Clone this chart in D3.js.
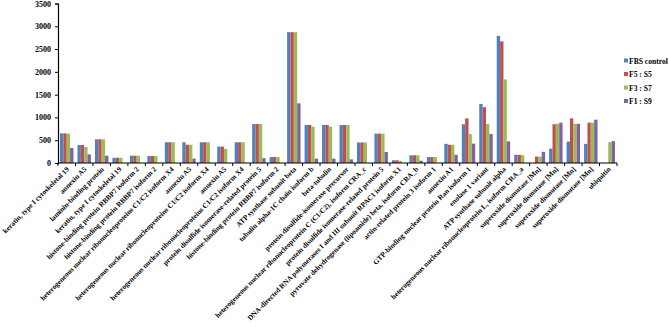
<!DOCTYPE html>
<html><head><meta charset="utf-8">
<script src="https://cdn.jsdelivr.net/npm/d3@7"></script>
<style>body{margin:0;background:#fff}svg{display:block}text{font-family:"Liberation Serif","Times New Roman",serif;font-weight:bold}</style>
</head><body>
<script>
const categories = [
"keratin, type I cytoskeletal 19","annexin A5","laminin-binding protein","keratin, type I cytoskeletal 19",
"histone-binding protein RBBP7 isoform 2","histone-binding protein RBBP7 isoform 2",
"heterogeneous nuclear ribonucleoproteins C1/C2 isoform X4","annexin A5",
"heterogeneous nuclear ribonucleoproteins C1/C2 isoform X4","annexin A5",
"heterogeneous nuclear ribonucleoproteins C1/C2 isoform X4","protein disulfide isomerase-related protein 5",
"histone-binding protein RBBP7 isoform 2","ATP synthase subunit beta","tubulin alpha-1C chain isoform b",
"beta-tubulin","protein disulfide-isomerase precursor",
"heterogeneous nuclear ribonucleoprotein C (C1/C2), isoform CRA_c","protein disulfide isomerase-related protein 5",
"DNA-directed RNA polymerases I and III subunit RPAC1 isoform X1","pyruvate dehydrogenase (lipoamide) beta, isoform CRA_b",
"actin-related protein 3 isoform 1","annexin A1","GTP-binding nuclear protein Ran isoform 1","enolase 1 variant",
"ATP synthase subunit alpha","heterogeneous nuclear ribonucleoprotein L, isoform CRA_a",
"superoxide dismutase [Mn]","superoxide dismutase [Mn]","superoxide dismutase [Mn]","superoxide dismutase [Mn]","ubiquitin"];
const seriesNames = ["FBS control","F5 : S5","F3 : S7","F1 : S9"];
const fbs = [650,395,520,115,160,155,455,455,455,360,455,855,130,2870,835,835,835,450,645,60,170,130,420,850,1295,2790,180,0,315,470,420,0];
const f5s5 = [650,395,520,115,160,155,455,400,455,360,455,855,130,2870,835,835,835,450,645,60,170,130,400,980,1225,2668,180,140,850,980,885,0];
const f3s7 = [645,350,520,115,160,155,455,400,455,310,455,855,130,2870,795,800,835,450,645,50,170,130,400,635,855,1835,170,140,860,860,885,460];
const f1s9 = [330,190,160,0,0,0,0,95,0,0,0,105,0,1310,95,95,80,0,240,0,50,0,180,425,635,475,0,245,885,860,950,480];
const yTicks = [0,500,1000,1500,2000,2500,3000,3500];
const colors = ["#4F81BD","#C0504D","#9BBB59","#8064A2"];

const W=669,H=327;
const svg=d3.select("body").append("svg").attr("width",W).attr("height",H);
const series=[fbs,f5s5,f3s7,f1s9];
const idx=d3.range(categories.length);
const x=d3.scaleBand().domain(idx).range([58,617]).padding(0);
const xi=d3.scaleBand().domain(d3.range(4)).range([0,x.bandwidth()]).paddingInner(0).paddingOuter(0.6);
const y=d3.scaleLinear().domain([0,3500]).range([163,3.5]);

// bars
idx.forEach(i=>{
  const g=svg.append("g").attr("transform",`translate(${x(i)},0)`);
  g.selectAll("rect").data(series.map((s,k)=>({k,v:s[i]}))).join("rect")
   .attr("x",d=>xi(d.k)).attr("width",xi.bandwidth())
   .attr("y",d=>y(d.v)).attr("height",d=>y(0)-y(d.v)).attr("fill",d=>colors[d.k]);
});

// y axis
const ya=svg.append("g").attr("transform","translate(58,0)")
 .call(d3.axisLeft(y).tickValues(yTicks).tickSize(3).tickPadding(4).tickFormat(d3.format("d")));
ya.select(".domain").attr("stroke","#000").attr("stroke-width",1.2);
ya.selectAll("text").attr("font-size",8).attr("fill","#000");

// x axis
const xa=svg.append("g");
xa.append("line").attr("x1",58).attr("x2",617).attr("y1",y(0)).attr("y2",y(0)).attr("stroke","#000").attr("stroke-width",1.2);
xa.selectAll("line.t").data(d3.range(categories.length+1)).join("line").attr("class","t")
 .attr("x1",d=>58+d*x.step()).attr("x2",d=>58+d*x.step()).attr("y1",y(0)).attr("y2",y(0)+3).attr("stroke","#000");
xa.selectAll("text").data(idx).join("text")
 .attr("transform",i=>`translate(${x(i)+x.bandwidth()/2+1},${y(0)+5}) rotate(-45)`)
 .attr("text-anchor","end").attr("dy","0.35em").attr("font-size",7.2).attr("fill","#000")
 .text(i=>categories[i]);

// legend
const lg=svg.append("g").attr("transform","translate(624,61)");
seriesNames.forEach((n,k)=>{
  const r=lg.append("g").attr("transform",`translate(0,${k*13.5})`);
  r.append("rect").attr("x",0).attr("y",-2.5).attr("width",4).attr("height",4).attr("fill",colors[k]);
  r.append("text").attr("x",5).attr("y",0).attr("dy","0.35em").attr("font-size",7.6).attr("fill","#000").text(n);
});
</script>
</body></html>
